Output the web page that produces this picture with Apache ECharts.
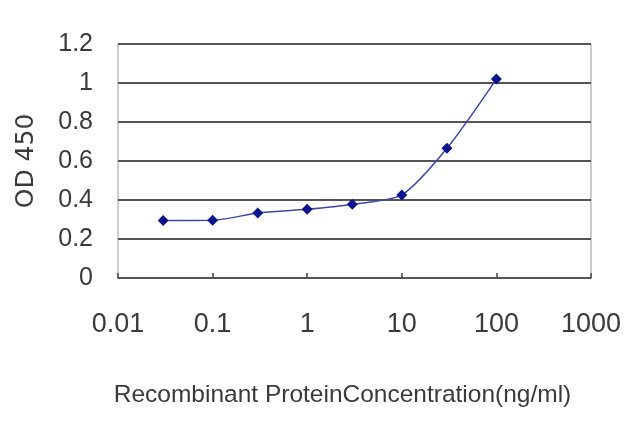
<!DOCTYPE html>
<html><head><meta charset="utf-8">
<script src="https://cdn.jsdelivr.net/npm/echarts@6/dist/echarts.min.js"></script>
<style>html,body{margin:0;padding:0;background:#fff}#c{width:640px;height:427px}</style>
</head><body><div id="c"></div>
<script>
const concentrations = [0.03, 0.1, 0.3, 1, 3, 10, 30, 100];
const odValues = [0.295, 0.296, 0.333, 0.352, 0.378, 0.426, 0.665, 1.02];
const yTicks = [0, 0.2, 0.4, 0.6, 0.8, 1, 1.2];
const xTickLabels = ['0.01', '0.1', '1', '10', '100', '1000'];

const chart = echarts.init(document.getElementById('c'));
const normal = '"Liberation Sans", Arial, sans-serif';
chart.setOption({
  animation: false,
  grid: {left: 118, right: 49, top: 44, bottom: 149, show: true, borderColor: '#9a9a9a', borderWidth: 1},
  xAxis: {
    type: 'log', logBase: 10, min: 0.01, max: 1000,
    name: 'Recombinant ProteinConcentration(ng/ml)', nameLocation: 'middle', nameGap: 105,
    nameTextStyle: {fontFamily: normal, fontSize: 24.5, color: '#3a3a3a', padding: [0, 24, 0, 0]},
    axisLine: {show: true, lineStyle: {color: '#555', width: 1.5}},
    axisTick: {show: true, inside: true, length: 5, lineStyle: {color: '#444', width: 1.5}},
    minorTick: {show: false},
    splitLine: {show: false},
    axisLabel: {margin: 33, fontFamily: normal, fontSize: 27, color: '#3a3a3a',
      formatter: v => { const s = xTickLabels.find(t => Math.abs(parseFloat(t) - v) / v < 1e-6); return s || ''; }}
  },
  yAxis: {
    type: 'value', min: 0, max: 1.2, interval: 0.2,
    name: 'OD 450', nameLocation: 'middle', nameGap: 79, nameRotate: 90,
    nameTextStyle: {fontFamily: '"DejaVu Sans", sans-serif', fontSize: 25, color: '#3a3a3a'},
    axisLine: {show: false}, axisTick: {show: false},
    splitLine: {show: true, lineStyle: {color: '#555', width: 2}},
    axisLabel: {margin: 25, fontFamily: normal, fontSize: 25, color: '#3a3a3a',
      formatter: v => { const s = yTicks.find(t => Math.abs(t - v) < 1e-9); return s === undefined ? '' : String(s); }}
  },
  series: [{
    type: 'line', data: concentrations.map((c, i) => [c, odValues[i]]),
    smooth: 0.25,
    symbol: 'diamond', symbolSize: 11,
    itemStyle: {color: '#0b138a'},
    lineStyle: {color: '#3d46a8', width: 1.5}
  }]
});
</script></body></html>
